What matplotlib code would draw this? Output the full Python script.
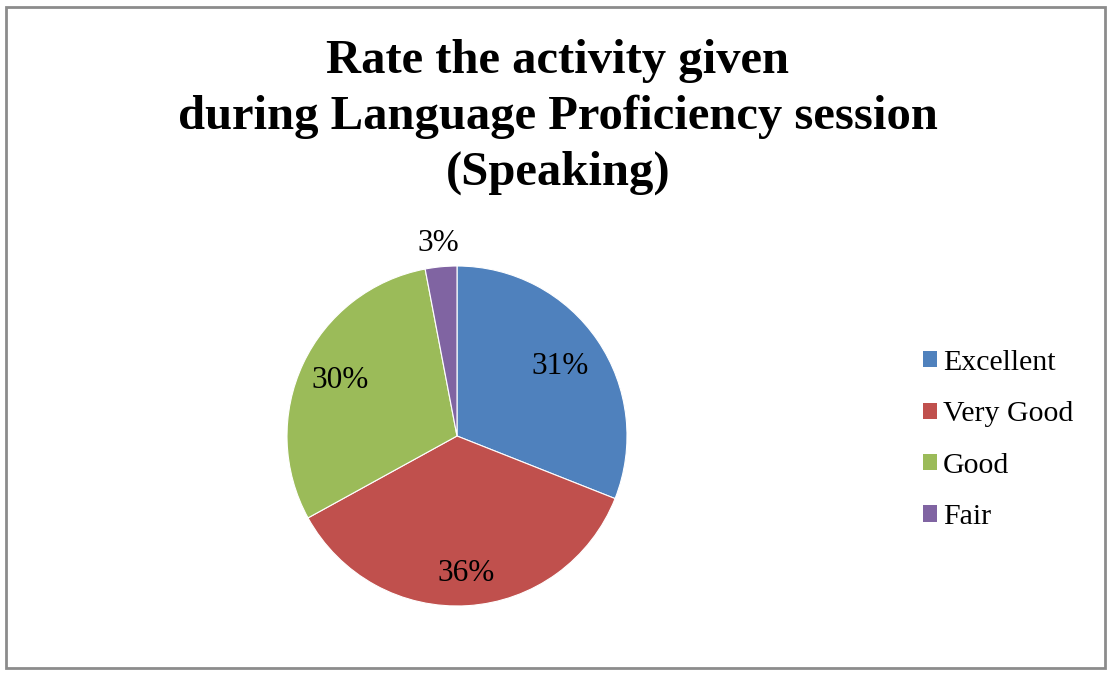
import numpy as np
import matplotlib.pyplot as plt
from matplotlib.patches import Rectangle

categories = ['Excellent', 'Very Good', 'Good', 'Fair']
shares = [31, 36, 30, 3]
colors = ['#4F81BD', '#C0504D', '#9BBB59', '#8064A2']
label_dist = [0.73, 0.81, 0.76, 1.14]
title_lines = ['Rate the activity given', 'during Language Proficiency session', '(Speaking)']

plt.rcParams['font.family'] = ['Liberation Serif', 'DejaVu Serif']

fig = plt.figure(figsize=(11.13, 6.74), dpi=100)
W, H = 1113, 674

# chart border
fig.patches.append(Rectangle((6 / W, 6 / H), 1099 / W, 661 / H, transform=fig.transFigure,
                             fill=False, edgecolor='#8c8c8c', linewidth=2))

for i, line in enumerate(title_lines):
    fig.text(558 / W, 1 - (61 + 56 * i) / H, line, ha='center', va='center',
             fontsize=35, fontweight='bold')

ax = fig.add_axes([287 / W, 68 / H, 340 / W, 340 / H])
wedges, _ = ax.pie(shares, colors=colors, startangle=90, counterclock=False,
                   wedgeprops=dict(edgecolor='white', linewidth=0.8))
ax.set_xlim(-1, 1)
ax.set_ylim(-1, 1)
ax.set_aspect('equal')

for w, v, d in zip(wedges, shares, label_dist):
    mid = np.deg2rad((w.theta1 + w.theta2) / 2)
    ax.text(d * np.cos(mid), d * np.sin(mid), f'{v}%', ha='center', va='center', fontsize=22.5)

handles = [Rectangle((0, 0), 1, 1, facecolor=c) for c in colors]
fig.legend(handles, categories, loc='center left', bbox_to_anchor=(923 / W, 1 - 440 / H),
           frameon=False, fontsize=21.5, handlelength=0.46, handleheight=0.46,
           handletextpad=0.2, labelspacing=0.85, borderpad=0, borderaxespad=0)

fig.savefig('out.png', dpi=100)
